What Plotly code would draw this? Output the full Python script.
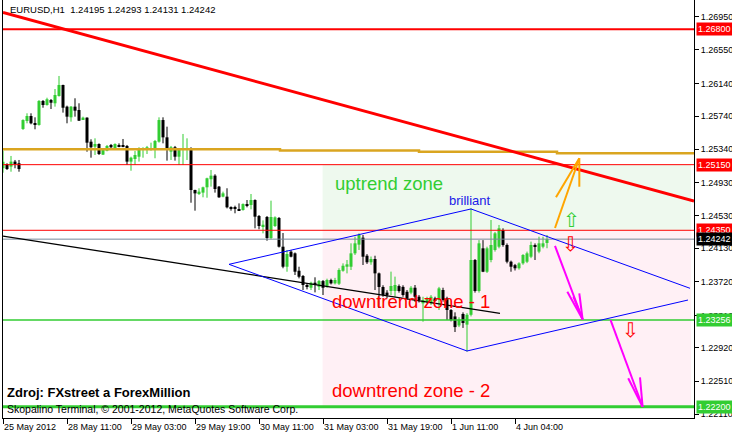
import plotly.graph_objects as go

# ---------------- data ----------------
opens = [1.25106,1.25158,1.25126,1.25187,1.25167,1.25585,1.25682,1.25743,1.25645,1.25634,
         1.25926,1.25877,1.25938,1.25898,1.25987,1.26121,1.25857,1.25727,1.25857,1.25816,
         1.25706,1.25723,1.25430,1.25369,1.25402,1.25272,1.25321,1.25390,1.25353,1.25386,
         1.25378,1.25378,1.25187,1.25219,1.25247,1.25329,1.25329,1.25329,1.25337,1.25430,
         1.25694,1.25483,1.25308,1.25362,1.25247,1.25329,1.25329,1.25349,1.24841,1.24800,
         1.24809,1.24874,1.24972,1.25016,1.24882,1.24760,1.24760,1.24630,1.24630,1.24602,
         1.24597,1.24670,1.24658,1.24719,1.24524,1.24402,1.24512,1.24256,1.24402,1.24500,
         1.24150,1.23906,1.24090,1.24069,1.23857,1.23793,1.23683,1.23650,1.23711,1.23662,
         1.23731,1.23670,1.23744,1.23703,1.23699,1.23857,1.23906,1.23906,1.24069,1.24175,
         1.24260,1.24040,1.23960,1.24000,1.23825,1.23659,1.23590,1.23610,1.23610,1.23670,
         1.23660,1.23600,1.23590,1.23650,1.23540,1.23460,1.23480,1.23459,1.23520,1.23500,
         1.23622,1.23520,1.23378,1.23300,1.23190,1.23330,1.23200,1.23320,1.23988,1.23610,
         1.24130,1.23845,1.23988,1.24110,1.24150,1.24354,1.24171,1.23967,1.23925,1.23887,
         1.23947,1.23967,1.24028,1.24171,1.24090,1.24150,1.24195]
highs = [1.25321,1.25167,1.25256,1.25207,1.25207,1.25703,1.25776,1.25776,1.25727,1.25938,
         1.25938,1.25966,1.25950,1.26072,1.26231,1.26125,1.25869,1.25865,1.25959,1.25898,
         1.25735,1.25727,1.25459,1.25471,1.25410,1.25349,1.25390,1.25402,1.25410,1.25410,
         1.25463,1.25390,1.25247,1.25317,1.25362,1.25362,1.25378,1.25418,1.25451,1.25727,
         1.25727,1.25613,1.25378,1.25378,1.25349,1.25524,1.25471,1.25362,1.24845,1.24862,
         1.24882,1.24991,1.25085,1.25033,1.24890,1.24821,1.24862,1.24642,1.24650,1.24678,
         1.24678,1.24719,1.24792,1.24727,1.24536,1.24471,1.24524,1.24711,1.24520,1.24512,
         1.24317,1.24110,1.24110,1.24080,1.23906,1.23805,1.23703,1.23723,1.23777,1.23744,
         1.23744,1.23760,1.23760,1.23770,1.23887,1.23947,1.23988,1.24191,1.24272,1.24313,
         1.24293,1.24060,1.24030,1.24040,1.23835,1.23680,1.23620,1.23846,1.23785,1.23690,
         1.23680,1.23622,1.23670,1.23683,1.23560,1.23540,1.23540,1.23560,1.23540,1.23660,
         1.23650,1.23540,1.23390,1.23350,1.23290,1.23350,1.23340,1.24618,1.24000,1.24230,
         1.24230,1.24150,1.24475,1.24330,1.24415,1.24374,1.24190,1.23980,1.23940,1.23960,
         1.24060,1.24090,1.24212,1.24190,1.24272,1.24272,1.24293]
lows = [1.25052,1.25085,1.25064,1.25106,1.25064,1.25573,1.25654,1.25642,1.25581,1.25625,
        1.25844,1.25869,1.25828,1.25857,1.25979,1.25784,1.25654,1.25674,1.25735,1.25682,
        1.25694,1.25308,1.25235,1.25268,1.25268,1.25268,1.25313,1.25349,1.25349,1.25362,
        1.25362,1.25146,1.25076,1.25146,1.25187,1.25235,1.25280,1.25321,1.25228,1.25418,
        1.25410,1.25199,1.25207,1.25199,1.25146,1.25146,1.25207,1.24686,1.24589,1.24780,
        1.24752,1.24747,1.24882,1.24809,1.24745,1.24752,1.24617,1.24589,1.24557,1.24597,
        1.24589,1.24630,1.24605,1.24374,1.24362,1.24313,1.24223,1.24240,1.24390,1.24140,
        1.23887,1.23845,1.24020,1.23805,1.23764,1.23622,1.23630,1.23622,1.23593,1.23622,
        1.23561,1.23650,1.23690,1.23690,1.23683,1.23845,1.23825,1.23866,1.24049,1.24110,
        1.23927,1.23940,1.23930,1.23622,1.23403,1.23540,1.23520,1.23561,1.23540,1.23590,
        1.23540,1.23500,1.23570,1.23480,1.23470,1.23236,1.23460,1.23440,1.23480,1.23378,
        1.23480,1.23256,1.23240,1.23110,1.23170,1.23160,1.22870,1.23300,1.23590,1.23590,
        1.23840,1.23830,1.23960,1.24090,1.24130,1.24150,1.23947,1.23845,1.23860,1.23870,
        1.23930,1.23950,1.24010,1.23988,1.24070,1.24130,1.24131]
closes = [1.25186,1.25097,1.25187,1.25158,1.25097,1.25694,1.25743,1.25654,1.25640,1.25926,
          1.25877,1.25947,1.25905,1.25999,1.26121,1.25844,1.25735,1.25857,1.25808,1.25686,
          1.25723,1.25418,1.25362,1.25402,1.25280,1.25337,1.25378,1.25362,1.25402,1.25369,
          1.25369,1.25187,1.25235,1.25268,1.25337,1.25349,1.25362,1.25349,1.25439,1.25694,
          1.25483,1.25329,1.25362,1.25247,1.25329,1.25349,1.25349,1.24841,1.24800,1.24821,
          1.24874,1.24984,1.25016,1.24853,1.24752,1.24800,1.24630,1.24610,1.24610,1.24597,
          1.24670,1.24650,1.24719,1.24516,1.24402,1.24418,1.24256,1.24512,1.24508,1.24150,
          1.23906,1.24061,1.24028,1.23845,1.23784,1.23683,1.23670,1.23711,1.23695,1.23731,
          1.23650,1.23744,1.23703,1.23744,1.23866,1.23918,1.23935,1.24069,1.24191,1.24293,
          1.24028,1.23960,1.24000,1.23825,1.23659,1.23561,1.23560,1.23671,1.23683,1.23610,
          1.23561,1.23520,1.23650,1.23540,1.23500,1.23500,1.23520,1.23540,1.23500,1.23642,
          1.23500,1.23378,1.23256,1.23170,1.23260,1.23220,1.23320,1.23988,1.23610,1.24191,
          1.23845,1.24130,1.24171,1.24313,1.24374,1.24171,1.23967,1.23906,1.23887,1.23947,
          1.24049,1.24069,1.24171,1.24150,1.24191,1.24191,1.24242]
bars = list(range(len(opens)))

x_tick_bars = [0, 16, 32, 48, 64, 80, 96, 112, 128]
x_tick_labels = ["25 May 2012", "28 May 11:00", "29 May 03:00", "29 May 19:00", "30 May 11:00",
                 "31 May 03:00", "31 May 19:00", "1 Jun 11:00", "4 Jun 04:00"]
y_ticks = [1.26950, 1.26550, 1.26140, 1.25740, 1.25340, 1.24930, 1.24530, 1.24130,
           1.23720, 1.23310, 1.22920, 1.22510, 1.22110]

# horizontal levels
level_values = [1.26800, 1.25150, 1.24350, 1.24242, 1.23256, 1.22200]
level_colors = ["#FF0000", "#FF0000", "#FF0000", "#778899", "#32CD32", "#32CD32"]
level_widths = [2, 1, 1, 1, 1.5, 3]
level_label_bg = ["#FF0000", "#FF0000", "#FF0000", "#000000", "#32CD32", "#32CD32"]

# orange daily level (step line)
pivot_bars = [0, 69.25, 104, 138.5, 172.75]
pivot_vals = [1.25337, 1.25323, 1.25308, 1.25289, 1.25289]

# trendlines
red_tl_bars = [0, 172.75]
red_tl_vals = [1.27005, 1.24707]
black_tl_bars = [0, 124.25]
black_tl_vals = [1.24280, 1.23338]

# blue "brilliant" figure: upper-right end, top, left, bottom, lower-right end
blue_bars = [171.75, 117, 56.5, 116, 171.25]
blue_vals = [1.23643, 1.24610, 1.23935, 1.22879, 1.23500]

# zones
zone_start_bar = 79.9
zone_end_bar = 172
uptrend_zone = (1.24350, 1.25150)
downtrend_zone = (1.22200, 1.24350)

# drawn arrows (segments)
orange_segments = [[(138, 1.24378), (144.08, 1.25228)],
                   [(138.25, 1.24752), (144.08, 1.25228)],
                   [(144.08, 1.25228), (144.08, 1.24881)]]
magenta_segments = [[(138, 1.24159), (144.9, 1.23265)],
                    [(141.08, 1.23601), (144.9, 1.23265)],
                    [(142.6, 1.23541), (144.9, 1.23265)],
                    [(144.08, 1.23582), (144.9, 1.23265)],
                    [(151.9, 1.23256), (159.9, 1.22199)],
                    [(156.3, 1.22546), (159.9, 1.22199)],
                    [(159.25, 1.22558), (159.9, 1.22199)]]
hollow_arrows = [(142, 1.24475, "\u21e7", "#32CD32"),
                 (141.75, 1.24183, "\u21e9", "#FF0000"),
                 (156.75, 1.23135, "\u21e9", "#FF0000")]

X_MAX = 172.75
Y_MIN, Y_MAX = 1.22062, 1.27157
FONT = "Liberation Sans"
GREEN = "#32CD32"

fig = go.Figure()

# ---- candles ----
min_h = 0.00010
for bull in (True, False):
    xs, base, hts, wx, wy = [], [], [], [], []
    for i, o, h, l, c in zip(bars, opens, highs, lows, closes):
        if (c >= o) != bull:
            continue
        xs.append(i)
        base.append(min(o, c))
        hts.append(max(abs(c - o), min_h))
        wx += [i, i, None]
        wy += [l, h, None]
    col = GREEN if bull else "#000000"
    fig.add_trace(go.Scatter(x=wx, y=wy, mode="lines", line=dict(color=col, width=1),
                             hoverinfo="skip"))
    fig.add_trace(go.Bar(x=xs, y=hts, base=base, width=0.75, marker=dict(color=col, line=dict(width=0)),
                         hoverinfo="skip"))

# ---- zones (below) ----
shapes = []
shapes.append(dict(type="rect", xref="x", yref="y", x0=zone_start_bar, x1=zone_end_bar,
                   y0=uptrend_zone[0], y1=uptrend_zone[1], fillcolor="#EEF9EE",
                   line=dict(width=0), layer="below"))
shapes.append(dict(type="rect", xref="x", yref="y", x0=zone_start_bar, x1=zone_end_bar,
                   y0=downtrend_zone[0], y1=downtrend_zone[1], fillcolor="#FFF0F5",
                   line=dict(width=0), layer="below"))

# ---- horizontal levels ----
for v, c, w in zip(level_values, level_colors, level_widths):
    fig.add_trace(go.Scatter(x=[0, X_MAX], y=[v, v], mode="lines",
                             line=dict(color=c, width=w), hoverinfo="skip"))

# orange stepped level
fig.add_trace(go.Scatter(x=pivot_bars, y=pivot_vals, mode="lines", line_shape="hv",
                         line=dict(color="#DAA520", width=2.5), hoverinfo="skip"))
# trendlines
fig.add_trace(go.Scatter(x=red_tl_bars, y=red_tl_vals, mode="lines",
                         line=dict(color="#FF0000", width=3), hoverinfo="skip"))
fig.add_trace(go.Scatter(x=black_tl_bars, y=black_tl_vals, mode="lines",
                         line=dict(color="#000000", width=1.3), hoverinfo="skip"))
fig.add_trace(go.Scatter(x=blue_bars, y=blue_vals, mode="lines",
                         line=dict(color="#0000FF", width=1), hoverinfo="skip"))

# drawn arrows
for segs, col in ((orange_segments, "#FFA500"), (magenta_segments, "#FF00FF")):
    sx, sy = [], []
    for (x0, y0), (x1, y1) in segs:
        sx += [x0, x1, None]
        sy += [y0, y1, None]
    fig.add_trace(go.Scatter(x=sx, y=sy, mode="lines", line=dict(color=col, width=2),
                             hoverinfo="skip"))

annotations = []
for bx, by, ch, col in hollow_arrows:
    annotations.append(dict(x=bx, y=by, xref="x", yref="y", text=ch, showarrow=False,
                            font=dict(family="DejaVu Sans", size=20, color=col)))

# zone labels
annotations.append(dict(x=82.5, y=1.24926, xref="x", yref="y", text="uptrend zone",
                        showarrow=False, xanchor="left", font=dict(family=FONT, size=18.5, color=GREEN)))
annotations.append(dict(x=81.75, y=1.23476, xref="x", yref="y", text="downtrend zone - 1",
                        showarrow=False, xanchor="left", font=dict(family=FONT, size=18.5, color="#FF0000")))
annotations.append(dict(x=81.75, y=1.22403, xref="x", yref="y", text="downtrend zone - 2",
                        showarrow=False, xanchor="left", font=dict(family=FONT, size=18.5, color="#FF0000")))
annotations.append(dict(x=116.75, y=1.24719, xref="x", yref="y", text="brilliant",
                        showarrow=False, font=dict(family=FONT, size=13, color="#2020E8")))

# header / footer texts
annotations.append(dict(x=0.0072, y=0.978, xref="paper", yref="paper",
                        text="EURUSD,H1\u00a0\u00a01.24195 1.24293 1.24131 1.24242",
                        showarrow=False, xanchor="left", yanchor="middle",
                        font=dict(family=FONT, size=9.5, color="#000000")))
annotations.append(dict(x=0.003, y=0.0622, xref="paper", yref="paper",
                        text="<b>Zdroj: FXstreet a ForexMillion</b>",
                        showarrow=False, xanchor="left", yanchor="middle",
                        font=dict(family=FONT, size=13, color="#000000")))
annotations.append(dict(x=0.003, y=0.0215, xref="paper", yref="paper",
                        text="Skopalino Terminal, \u00a9 2001-2012, MetaQuotes Software Corp.",
                        showarrow=False, xanchor="left", yanchor="middle",
                        font=dict(family=FONT, size=10.5, color="#000000")))

# level price boxes on the right axis
for v, bg in zip(level_values, level_label_bg):
    annotations.append(dict(x=1, xref="paper", y=v, yref="y", text=f"{v:.5f}",
                            showarrow=False, xanchor="left", xshift=2, bgcolor=bg,
                            borderpad=1, width=35, align="left",
                            font=dict(family=FONT, size=9, color="#FFFFFF")))

fig.update_layout(
    width=732, height=434,
    margin=dict(l=3, r=38, t=0, b=16),
    plot_bgcolor="#FFFFFF", paper_bgcolor="#FFFFFF",
    showlegend=False, barmode="overlay",
    font=dict(family=FONT, size=9, color="#000000"),
    shapes=shapes, annotations=annotations,
    xaxis=dict(range=[0, X_MAX], tickvals=x_tick_bars, ticktext=x_tick_labels,
               ticks="outside", ticklen=5, tickcolor="#000000", showgrid=False,
               zeroline=False, showline=True, linecolor="#000000", linewidth=1,
               ticklabelposition="outside right", tickfont=dict(family=FONT, size=9)),
    yaxis=dict(range=[Y_MIN, Y_MAX], side="right", tickvals=y_ticks,
               ticktext=[f"{v:.5f}" for v in y_ticks],
               ticks="outside", ticklen=4, tickcolor="#000000", showgrid=False,
               zeroline=False, showline=True, mirror=True, linecolor="#000000",
               linewidth=1, tickfont=dict(family=FONT, size=9)),
)

fig.write_html("out.html", config={"displayModeBar": False},
               post_script="document.body.style.margin='0';document.body.style.padding='0';")
